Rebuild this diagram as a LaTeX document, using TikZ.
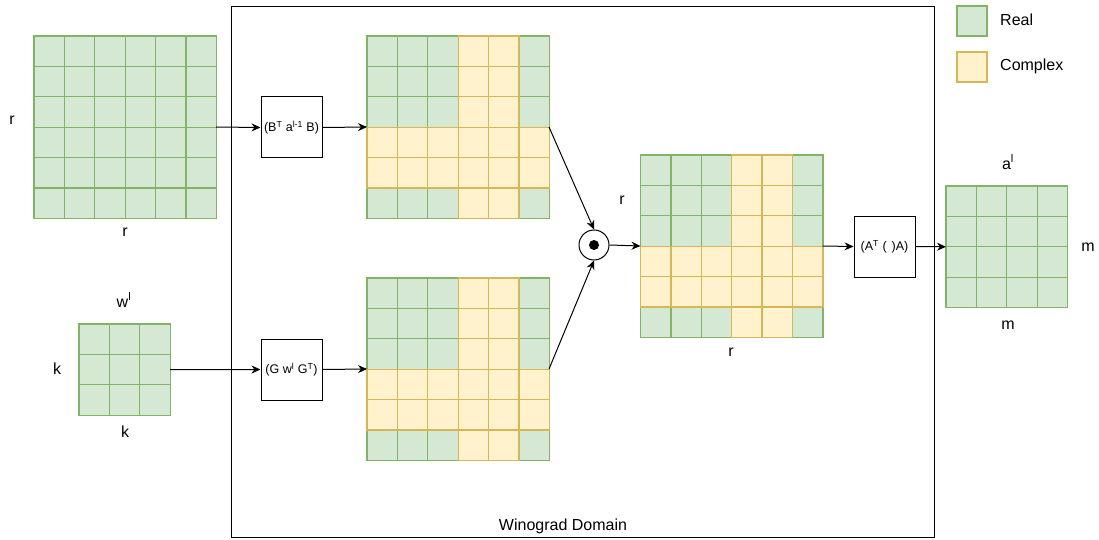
\documentclass[tikz,border=0pt]{standalone}
\usepackage{fontspec}
\setmainfont{Liberation Sans}
\usetikzlibrary{arrows.meta}
\definecolor{gfill}{HTML}{D5E8D4}
\definecolor{gline}{HTML}{82B366}
\definecolor{yfill}{HTML}{FFF2CC}
\definecolor{yline}{HTML}{D6B656}
\tikzset{
  gcell/.style={fill=gfill,draw=gline,line width=1.3pt},
  ycell/.style={fill=yfill,draw=yline,line width=1.3pt},
  gridbox/.style={draw=none,inner sep=0pt,outer sep=0pt},
  opbox/.style={draw,line width=1pt,minimum width=61pt,minimum height=61pt,inner sep=0pt,font=\fontsize{12.5}{15}\selectfont},
  lbl/.style={font=\fontsize{16}{19}\selectfont,inner sep=0pt},
  conn/.style={line width=1pt,-{Stealth[length=9pt,width=8pt]}}
}
\def\cs{30.4}
\newcommand\cellgrid[5]{%
  \foreach \ii in {1,...,#3}{\foreach \jj in {1,...,#4}{%
    \draw[#5] ({#1+(\ii-1)*\cs},{#2+(\jj-1)*\cs}) rectangle ++(\cs,\cs);}}}
\newcommand\mixgrid[2]{%
  \cellgrid{#1}{#2}{6}{6}{gcell}%
  \cellgrid{#1+3*\cs}{#2}{2}{6}{ycell}%
  \cellgrid{#1}{#2+3*\cs}{6}{2}{ycell}}
\begin{document}
\begin{tikzpicture}[x=1pt,y=-1pt]
\useasboundingbox (0,0) rectangle (1099,540);
% Winograd domain
\node[draw,line width=1pt,minimum width=703pt,minimum height=530pt,inner sep=0pt] (wd) at (582.5,272) {};
\node[lbl,anchor=south] (wdl) at (563,534) {Winograd Domain};
% legend
\node[gcell,minimum width=30pt,minimum height=30pt,inner sep=0pt] (lg) at (972,21) {};
\node[ycell,minimum width=30pt,minimum height=30pt,inner sep=0pt] (ly) at (972,67) {};
\node[lbl,anchor=west] (lgt) at (1000,20) {Real};
\node[lbl,anchor=west] (lyt) at (1000,66) {Complex};
% input grid
\cellgrid{34}{36}{6}{6}{gcell}
\node[gridbox,minimum width=182pt,minimum height=182pt] (ain) at (125,127) {};
\node[lbl] (r1) at (12,120) {r};
\node[lbl] (r2) at (125,232) {r};
% weight grid
\cellgrid{79}{324}{3}{3}{gcell}
\node[gridbox,minimum width=91pt,minimum height=91pt] (win) at (124.6,369.6) {};
\node[lbl] (wl) at (124,300) {w\textsuperscript{l}};
\node[lbl] (k1) at (57,369) {k};
\node[lbl] (k2) at (125,432) {k};
% op boxes
\node[opbox] (b1) at (291.5,127.5) {(B\textsuperscript{T} a\textsuperscript{l-1} B)};
\node[opbox] (b2) at (291.5,369.5) {(G w\textsuperscript{l} G\textsuperscript{T})};
% transformed grids
\mixgrid{367}{36}
\node[gridbox,minimum width=182pt,minimum height=182pt] (tg) at (458,127) {};
\mixgrid{367}{278}
\node[gridbox,minimum width=182pt,minimum height=182pt] (bg) at (458,369) {};
% odot
\node[draw,circle,line width=1pt,minimum size=30pt,inner sep=0pt] (od) at (594,245) {};
\fill (od.center) circle (5pt);
% middle grid
\mixgrid{640.5}{155}
\node[gridbox,minimum width=182pt,minimum height=182pt] (mg) at (731.5,246) {};
\node[lbl] (r3) at (622,200) {r};
\node[lbl] (r4) at (731,352) {r};
% output op
\node[opbox] (b3) at (884.5,246.5) {(A\textsuperscript{T} (\hspace{5pt})A)};
% output grid
\cellgrid{946}{186}{4}{4}{gcell}
\node[gridbox,minimum width=121.6pt,minimum height=121.6pt] (og) at (1006.8,246.8) {};
\node[lbl] (al) at (1008,162) {a\textsuperscript{l}};
\node[lbl] (m1) at (1088,247) {m};
\node[lbl] (m2) at (1008,325) {m};
% connectors
\draw[conn] (ain.east) -- (b1.west);
\draw[conn] (b1.east) -- (tg.west);
\draw[conn] (win.east) -- (b2.west);
\draw[conn] (b2.east) -- (bg.west);
\draw[conn] (tg.east) -- (od.north);
\draw[conn] (bg.east) -- (od.south);
\draw[conn] (od.east) -- (mg.west);
\draw[conn] (mg.east) -- (b3.west);
\draw[conn] (b3.east) -- (og.west);
\end{tikzpicture}
\end{document}
